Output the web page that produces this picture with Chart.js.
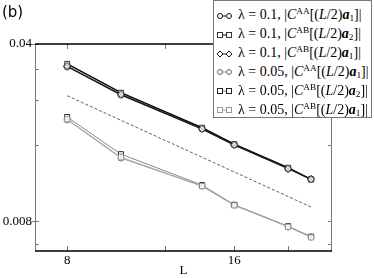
<!DOCTYPE html>
<html lang="en">
<head>
<meta charset="utf-8">
<title>Chart</title>
<script src="https://cdn.jsdelivr.net/npm/chart.js@4.4.1/dist/chart.umd.min.js"></script>
<style>
  body { margin: 0; background: #fff; }
  #Page { position: relative; width: 374px; height: 278px; overflow: hidden; }
  #panel { position: absolute; left: 2px; top: 3px; font: 15px "DejaVu Sans", sans-serif; }
  #legend { position: absolute; left: 213px; top: 0px; width: 157px; height: 116px;
            border: 1px solid #777; background: #fff;
            font-family: "Liberation Serif", "Times New Roman", "DejaVu Serif", serif; font-size: 14px; }
  .row { position: absolute; left: 2px; height: 19px; white-space: nowrap; line-height: 19px; }
  .row svg { vertical-align: middle; margin-right: 5px; }
  sup, sub { font-size: 0.66em; line-height: 0; }
  sup { vertical-align: 0.55em; }
  sub { vertical-align: -0.25em; }
</style>
</head>
<body>
<div id="Page">
  <canvas id="myChart" width="374" height="278"></canvas>
  <div id="panel">(b)</div>
  <div id="legend"></div>
</div>
<script type="text/javascript">
    // system sizes L and the correlation values
    var Ls = [8, 10, 14, 16, 20, 22];
    var aa_01  = [0.0326, 0.0252, 0.0185, 0.0160, 0.0129, 0.0117];
    var ab2_01 = [0.0334, 0.0257, 0.0187, 0.0161, 0.0130, 0.0117];
    var ab1_01 = [0.0327, 0.0253, 0.0185, 0.0160, 0.0129, 0.0117];
    var aa_005  = [0.0201, 0.0142, 0.0110, 0.00925, 0.00762, 0.00693];
    var ab2_005 = [0.0206, 0.0147, 0.0111, 0.00928, 0.00764, 0.00695];
    var ab1_005 = [0.0202, 0.0143, 0.0110, 0.00924, 0.00760, 0.00690];
    // dashed guide line
    var guideL = [8, 22];
    var guideVals = [0.025, 0.0091];
    // ticks
    var xTicks = [8, 12, 16, 20];
    var xLabels = [8, 16];
    var yTicks = [0.04, 0.032, 0.024, 0.016, 0.008, 0.0065];
    var yLabels = [0.04, 0.008];

    var legendNames = [
        ['0.1', 'AA', '1'], ['0.1', 'AB', '2'], ['0.1', 'AB', '1'],
        ['0.05', 'AA', '1'], ['0.05', 'AB', '2'], ['0.05', 'AB', '1']
    ];

    function makeMarker(shape, color) {
        var c = document.createElement('canvas');
        c.width = 8; c.height = 8;
        var g = c.getContext('2d');
        g.strokeStyle = color; g.fillStyle = '#fff'; g.lineWidth = 1;
        g.beginPath();
        if (shape === 'circle') g.arc(4, 4, 3, 0, Math.PI * 2);
        else if (shape === 'square') g.rect(1.5, 1.5, 5, 5);
        else { g.moveTo(4, 0.5); g.lineTo(7.5, 4); g.lineTo(4, 7.5); g.lineTo(0.5, 4); g.closePath(); }
        g.fill(); g.stroke();
        g.fillStyle = color;
        g.fillRect(3.5, 3.5, 1, 1);
        return c;
    }

    function pts(xs, ys) {
        return xs.map(function (x, i) { return {x: x, y: ys[i]}; });
    }

    var series = [
        {data: ab1_005, shape: 'square', mc: '#999', lc: '#aaa', w: 1},
        {data: ab2_005, shape: 'square', mc: '#222', lc: '#888', w: 1},
        {data: aa_005, shape: 'circle', mc: '#666', lc: '#999', w: 1},
        {data: ab1_01, shape: 'diamond', mc: '#111', lc: '#222', w: 1.2},
        {data: ab2_01, shape: 'square', mc: '#333', lc: '#000', w: 1.3},
        {data: aa_01, shape: 'circle', mc: '#111', lc: '#111', w: 1.2}
    ];

    var datasets = [{
        data: pts(guideL, guideVals), borderColor: '#333', borderWidth: 0.8,
        borderDash: [3, 2], pointRadius: 0, fill: false
    }];
    series.forEach(function (s) {
        datasets.push({
            data: pts(Ls, s.data), borderColor: s.lc, borderWidth: s.w,
            pointStyle: makeMarker(s.shape, s.mc), pointRadius: 4, fill: false
        });
    });

    var frame = {
        id: 'frame',
        afterDraw: function (chart) {
            var ctx = chart.ctx, a = chart.chartArea;
            var xs = chart.scales.x, ys = chart.scales.y;
            ctx.save();
            ctx.strokeStyle = '#777'; ctx.lineWidth = 1;
            ctx.beginPath();
            ctx.moveTo(a.left + 0.5, a.top); ctx.lineTo(a.left + 0.5, a.bottom);
            ctx.moveTo(a.right - 0.5, a.top); ctx.lineTo(a.right - 0.5, a.bottom);
            yTicks.forEach(function (v) {
                var y = Math.round(ys.getPixelForValue(v)) + 0.5;
                ctx.moveTo(a.left, y); ctx.lineTo(a.left + 4, y);
                ctx.moveTo(a.right, y); ctx.lineTo(a.right - 4, y);
            });
            yLabels.forEach(function (v) {
                var y = Math.round(ys.getPixelForValue(v)) + 0.5;
                ctx.moveTo(a.left - 3, y); ctx.lineTo(a.left, y);
            });
            xTicks.forEach(function (v) {
                var x = Math.round(xs.getPixelForValue(v)) + 0.5;
                ctx.moveTo(x, a.bottom); ctx.lineTo(x, a.bottom - 5);
                ctx.moveTo(x, a.top); ctx.lineTo(x, a.top + 5);
            });
            ctx.stroke();
            ctx.strokeStyle = '#000'; ctx.lineWidth = 1.5;
            ctx.beginPath();
            ctx.moveTo(a.left, a.top); ctx.lineTo(a.right, a.top);
            ctx.moveTo(a.left, a.bottom); ctx.lineTo(a.right, a.bottom);
            ctx.stroke();
            ctx.restore();
        }
    };

    var tickFont = {family: '"Liberation Serif", "Times New Roman", "DejaVu Serif", serif', size: 13};
    var ctx = document.getElementById('myChart');
    var myChart = new Chart(ctx, {
        type: 'line',
        data: {datasets: datasets},
        options: {
            responsive: false,
            animation: false,
            layout: {padding: {top: 44, right: 42, left: 0, bottom: 0}},
            plugins: {legend: {display: false}, tooltip: {enabled: false}},
            scales: {
                x: {
                    type: 'logarithmic', min: 7, max: 24,
                    grid: {display: false, drawTicks: false}, border: {display: false},
                    afterBuildTicks: function (s) { s.ticks = xLabels.map(function (v) { return {value: v}; }); },
                    afterFit: function (s) { s.height = 27; },
                    ticks: {font: tickFont, color: '#000', padding: 2, maxRotation: 0,
                        callback: function (v) { return String(v); }},
                    title: {display: true, text: 'L', font: tickFont, color: '#000', padding: {top: 0, bottom: 0}}
                },
                y: {
                    type: 'logarithmic', min: 0.0061, max: 0.04,
                    grid: {display: false, drawTicks: false}, border: {display: false},
                    afterBuildTicks: function (s) { s.ticks = yLabels.map(function (v) { return {value: v}; }); },
                    afterFit: function (s) { s.width = 35; },
                    ticks: {font: tickFont, color: '#000', padding: 3,
                        callback: function (v) { return String(v); }}
                }
            }
        },
        plugins: [frame]
    });

    function symbolSvg(shape, cx, color) {
        if (shape === 'circle')
            return '<circle cx="' + cx + '" cy="5" r="2.5" fill="#fff" stroke="' + color + '"/>';
        if (shape === 'square')
            return '<rect x="' + (cx - 2.5) + '" y="2.5" width="5" height="5" fill="#fff" stroke="' + color + '"/>';
        return '<path d="M' + cx + ' 2 L' + (cx + 3) + ' 5 L' + cx + ' 8 L' + (cx - 3) + ' 5 Z" fill="#fff" stroke="' + color + '"/>';
    }

    // legend with math-style labels
    var legend = document.getElementById('legend');
    legendNames.forEach(function (n, i) {
        var s = series[series.length - 1 - i];
        var sym = '<svg width="17" height="10">' +
            '<line x1="4" y1="5" x2="13" y2="5" stroke="' + s.lc + '" stroke-width="1"/>' +
            symbolSvg(s.shape, 4, s.mc) + symbolSvg(s.shape, 13, s.mc) + '</svg>';
        var row = document.createElement('div');
        row.className = 'row';
        row.style.top = (4 + i * 18.9) + 'px';
        row.innerHTML = sym + '\u03bb = ' + n[0] + ', |<i>C</i><sup>' + n[1] + '</sup>[(<i>L</i>/2)<b><i>a</i></b><sub>' + n[2] + '</sub>]|';
        legend.appendChild(row);
    });
</script>
</body>
</html>
